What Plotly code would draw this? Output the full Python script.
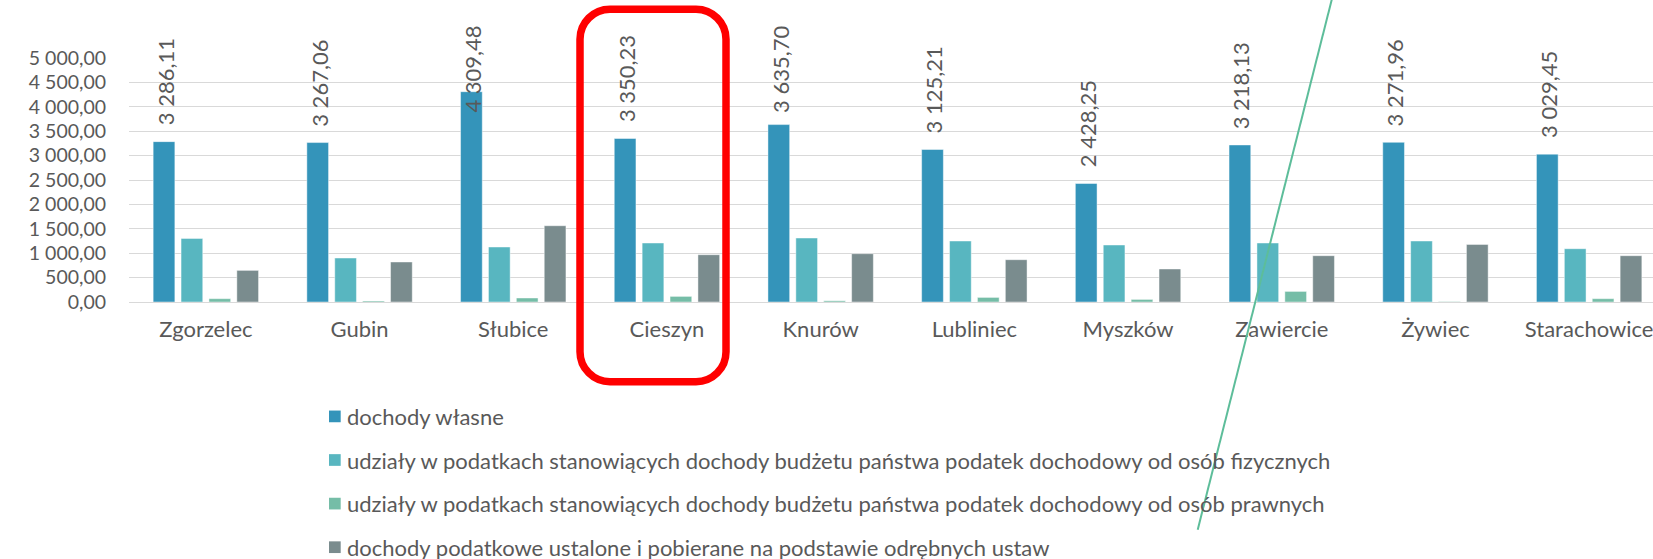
import plotly.graph_objects as go

# ---------------- data ----------------
categories = ["Zgorzelec", "Gubin", "Słubice", "Cieszyn", "Knurów",
              "Lubliniec", "Myszków", "Zawiercie", "Żywiec", "Starachowice"]
dochody_wlasne = [3286.11, 3267.06, 4309.48, 3350.23, 3635.70,
                  3125.21, 2428.25, 3218.13, 3271.96, 3029.45]
udzialy_pit = [1303, 901, 1127, 1209, 1311, 1250, 1168, 1209, 1250, 1092]
udzialy_cit = [68, 20, 82, 115, 25, 94, 53, 217, 8, 68]
dochody_odrebne = [648, 820, 1563, 969, 990, 867, 676, 949, 1180, 949]

series_names = [
    "dochody własne",
    "udziały w podatkach stanowiących dochody budżetu państwa podatek dochodowy od osób fizycznych",
    "udziały w podatkach stanowiących dochody budżetu państwa podatek dochodowy od osób prawnych",
    "dochody podatkowe ustalone i pobierane na podstawie odrębnych ustaw",
]
series_values = [dochody_wlasne, udzialy_pit, udzialy_cit, dochody_odrebne]
colors = ["#3494BA", "#58B6C0", "#75BDA7", "#7A8C8E"]

# ---------------- geometry / style ----------------
W, H = 1653, 559
ML, MR = 129, 0
Y0_PX, YTOP_PX = 302.3, 58.3          # pixel rows of 0 and 5000
MT, MB = YTOP_PX, H - Y0_PX
YMAX = 5000
PLOT_W = W - ML - MR
CAT_W = 153.7
FONT = "Lato"
TXT = "#595959"
FS = 22

# legend layout (pixels)
LEG_SYM_X0, LEG_SYM_SIZE = 329, 11.7
LEG_TEXT_X = 345
LEG_Y0, LEG_DY = 416.7, 43.6


def xp(px):
    return (px - ML) / PLOT_W


def yp(py):
    return (Y0_PX - py) / (Y0_PX - YTOP_PX)


def fmt(v):
    return f"{v:,.2f}".replace(",", " ").replace(".", ",")


fig = go.Figure()
for name, vals, col in zip(series_names, series_values, colors):
    fig.add_trace(go.Bar(
        x=categories, y=vals, name=name, showlegend=False,
        marker=dict(color=col, line=dict(color="rgba(255,255,255,0.45)", width=1)),
        hoverinfo="x+y+name",
    ))

# data labels on first series (rotated, clamped to chart top like Excel)
px_per_unit = (Y0_PX - YTOP_PX) / YMAX
label_bottom_limit_px = 110
gap_px = 19
pad_px = 5
cap_value = (Y0_PX - (label_bottom_limit_px + gap_px)) / px_per_unit
slot_px = CAT_W * (1 - 0.274) / 4
for c, v in zip(categories, dochody_wlasne):
    fig.add_annotation(
        x=c, y=min(v, cap_value), xref="x", yref="y",
        text=fmt(v), showarrow=False, textangle=-90,
        xanchor="center", yanchor="bottom",
        xshift=-1.5 * slot_px + 1, yshift=gap_px - pad_px,
        font=dict(family=FONT, size=FS, color=TXT),
    )

# legend (drawn as symbols + text rows)
for i, (name, col) in enumerate(zip(series_names, colors)):
    cy = LEG_Y0 + i * LEG_DY
    fig.add_shape(type="rect", xref="paper", yref="paper",
                  x0=xp(LEG_SYM_X0), x1=xp(LEG_SYM_X0 + LEG_SYM_SIZE),
                  y0=yp(cy - LEG_SYM_SIZE / 2), y1=yp(cy + LEG_SYM_SIZE / 2),
                  fillcolor=col, line=dict(width=0))
    fig.add_annotation(x=xp(LEG_TEXT_X), y=yp(cy), xref="paper", yref="paper",
                       text=name, showarrow=False, xanchor="left", yanchor="middle",
                       font=dict(family=FONT, size=FS, color=TXT))

# red rounded highlight rectangle around Cieszyn
l, r, t, b, rad = 580, 726, 9.5, 382, 30
k = 0.5523 * rad
path = (
    f"M {xp(l+rad)},{yp(t)} L {xp(r-rad)},{yp(t)} "
    f"C {xp(r-rad+k)},{yp(t)} {xp(r)},{yp(t+rad-k)} {xp(r)},{yp(t+rad)} "
    f"L {xp(r)},{yp(b-rad)} "
    f"C {xp(r)},{yp(b-rad+k)} {xp(r-rad+k)},{yp(b)} {xp(r-rad)},{yp(b)} "
    f"L {xp(l+rad)},{yp(b)} "
    f"C {xp(l+rad-k)},{yp(b)} {xp(l)},{yp(b-rad+k)} {xp(l)},{yp(b-rad)} "
    f"L {xp(l)},{yp(t+rad)} "
    f"C {xp(l)},{yp(t+rad-k)} {xp(l+rad-k)},{yp(t)} {xp(l+rad)},{yp(t)} Z"
)
fig.add_shape(type="path", path=path, xref="paper", yref="paper",
              line=dict(color="#FF0000", width=7.5), layer="above")

# green diagonal line
fig.add_shape(type="line", xref="paper", yref="paper",
              x0=xp(1332.5), y0=yp(-3), x1=xp(1197.7), y1=yp(530),
              line=dict(color="#5DBD9A", width=2), layer="above")

fig.update_layout(
    width=W, height=H,
    margin=dict(l=ML, r=MR, t=MT, b=MB, pad=0, autoexpand=False),
    paper_bgcolor="white", plot_bgcolor="white",
    barmode="group", bargap=0.274, bargroupgap=0.222,
    separators=", ",
    font=dict(family=FONT, size=FS, color=TXT),
    showlegend=False,
    xaxis=dict(
        range=[-0.5, -0.5 + PLOT_W / CAT_W], showgrid=False, zeroline=False,
        showline=False, ticks="", tickfont=dict(family=FONT, size=FS, color=TXT),
        ticklabelstandoff=12, fixedrange=True, automargin=False,
    ),
    yaxis=dict(
        range=[0, YMAX], dtick=500, tickformat=",.2f",
        showgrid=True, gridcolor="#D9D9D9", gridwidth=1.3,
        zeroline=True, zerolinecolor="#D9D9D9", zerolinewidth=1.3,
        showline=False, ticks="outside", ticklen=18, tickcolor="rgba(0,0,0,0)",
        tickfont=dict(family=FONT, size=19.5, color=TXT),
        fixedrange=True, automargin=False,
    ),
)

fig.write_html(
    "out.html",
    config={"displayModeBar": False},
    post_script="document.body.style.margin='0px';document.body.style.overflow='hidden';",
)
